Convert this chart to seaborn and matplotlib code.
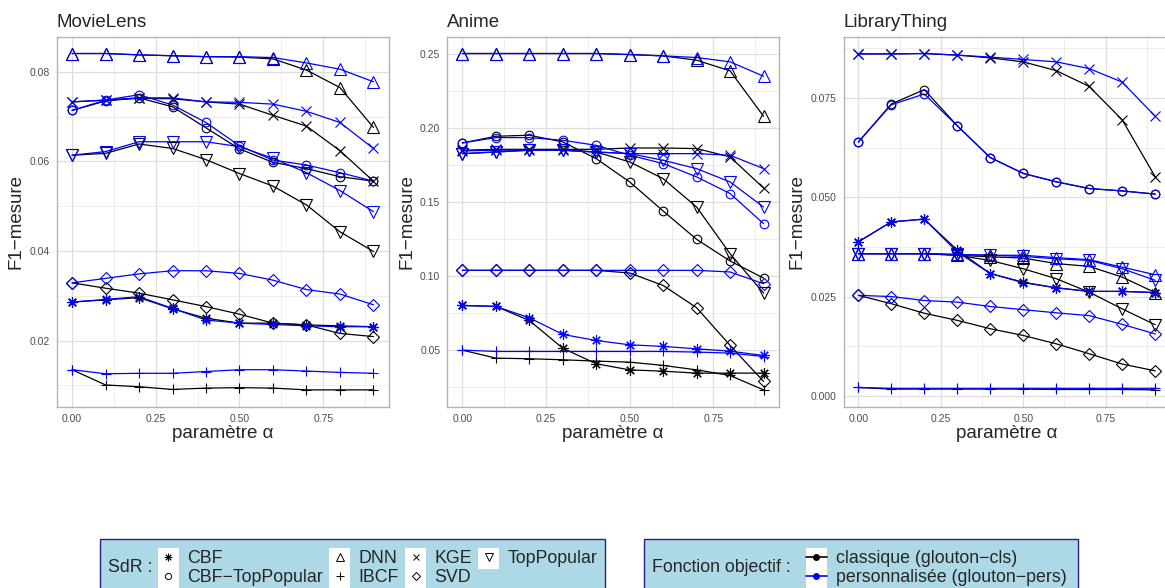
import matplotlib
matplotlib.use("Agg")
import matplotlib.pyplot as plt
import numpy as np
import pandas as pd
import seaborn as sns
from matplotlib.lines import Line2D
from matplotlib.patches import Rectangle
from matplotlib.ticker import FixedLocator, FormatStrFormatter

ALPHA = [0.0, 0.1, 0.2, 0.3, 0.4, 0.5, 0.6, 0.7, 0.8, 0.9]
SDR = ["CBF", "CBF−TopPopular", "DNN", "IBCF", "KGE", "SVD", "TopPopular"]
OBJ_CLS = "classique (glouton−cls)"
OBJ_PERS = "personnalisée (glouton−pers)"

# F1 values, one dict per dataset / objective function
MOVIELENS_CLS = {
    "CBF": [0.0286, 0.0291, 0.0296, 0.0271, 0.0250, 0.0239, 0.0239, 0.0235, 0.0233, 0.0231],
    "CBF−TopPopular": [0.0714, 0.0735, 0.0742, 0.0722, 0.0675, 0.0628, 0.0598, 0.0584, 0.0566, 0.0556],
    "DNN": [0.0841, 0.0841, 0.0838, 0.0836, 0.0834, 0.0833, 0.0829, 0.0804, 0.0765, 0.0676],
    "IBCF": [0.0135, 0.0101, 0.0097, 0.0091, 0.0094, 0.0095, 0.0094, 0.0090, 0.0090, 0.0090],
    "KGE": [0.0733, 0.0737, 0.0741, 0.0740, 0.0733, 0.0728, 0.0703, 0.0679, 0.0624, 0.0556],
    "SVD": [0.0329, 0.0317, 0.0306, 0.0291, 0.0276, 0.0259, 0.0239, 0.0235, 0.0216, 0.0209],
    "TopPopular": [0.0614, 0.0618, 0.0639, 0.0629, 0.0604, 0.0573, 0.0545, 0.0503, 0.0443, 0.0399],
}
MOVIELENS_PERS = {
    "CBF": [0.0286, 0.0292, 0.0298, 0.0272, 0.0246, 0.0239, 0.0236, 0.0233, 0.0231, 0.0231],
    "CBF−TopPopular": [0.0714, 0.0737, 0.0749, 0.0726, 0.0687, 0.0635, 0.0603, 0.0592, 0.0575, 0.0556],
    "DNN": [0.0841, 0.0841, 0.0838, 0.0836, 0.0834, 0.0834, 0.0832, 0.0820, 0.0806, 0.0778],
    "IBCF": [0.0135, 0.0126, 0.0127, 0.0127, 0.0131, 0.0135, 0.0135, 0.0132, 0.0129, 0.0127],
    "KGE": [0.0733, 0.0737, 0.0742, 0.0742, 0.0733, 0.0732, 0.0728, 0.0712, 0.0687, 0.0629],
    "SVD": [0.0329, 0.0339, 0.0349, 0.0356, 0.0356, 0.0350, 0.0335, 0.0314, 0.0304, 0.0280],
    "TopPopular": [0.0614, 0.0622, 0.0644, 0.0644, 0.0644, 0.0633, 0.0607, 0.0575, 0.0535, 0.0488],
}
ANIME_CLS = {
    "CBF": [0.0801, 0.0795, 0.0700, 0.0513, 0.0408, 0.0367, 0.0358, 0.0345, 0.0345, 0.0345],
    "CBF−TopPopular": [0.1897, 0.1942, 0.1949, 0.1904, 0.1791, 0.1634, 0.1438, 0.1247, 0.1101, 0.0986],
    "DNN": [0.2500, 0.2500, 0.2500, 0.2500, 0.2500, 0.2493, 0.2484, 0.2455, 0.2383, 0.2077],
    "IBCF": [0.0500, 0.0446, 0.0442, 0.0435, 0.0426, 0.0419, 0.0397, 0.0367, 0.0329, 0.0232],
    "KGE": [0.1848, 0.1854, 0.1854, 0.1854, 0.1854, 0.1863, 0.1863, 0.1859, 0.1803, 0.1593],
    "SVD": [0.1038, 0.1038, 0.1038, 0.1038, 0.1038, 0.1020, 0.0936, 0.0786, 0.0532, 0.0289],
    "TopPopular": [0.1825, 0.1836, 0.1848, 0.1848, 0.1836, 0.1769, 0.1656, 0.1465, 0.1150, 0.0885],
}
ANIME_PERS = {
    "CBF": [0.0801, 0.0795, 0.0718, 0.0606, 0.0565, 0.0536, 0.0525, 0.0509, 0.0493, 0.0464],
    "CBF−TopPopular": [0.1897, 0.1933, 0.1933, 0.1915, 0.1881, 0.1814, 0.1758, 0.1668, 0.1556, 0.1353],
    "DNN": [0.2500, 0.2500, 0.2500, 0.2500, 0.2500, 0.2493, 0.2484, 0.2473, 0.2444, 0.2347],
    "IBCF": [0.0500, 0.0491, 0.0491, 0.0491, 0.0491, 0.0491, 0.0491, 0.0487, 0.0480, 0.0457],
    "KGE": [0.1843, 0.1848, 0.1848, 0.1848, 0.1836, 0.1825, 0.1825, 0.1825, 0.1814, 0.1724],
    "SVD": [0.1038, 0.1038, 0.1038, 0.1038, 0.1038, 0.1038, 0.1038, 0.1038, 0.1027, 0.0948],
    "TopPopular": [0.1825, 0.1836, 0.1848, 0.1848, 0.1836, 0.1825, 0.1780, 0.1724, 0.1634, 0.1465],
}
LIBRARY_CLS = {
    "CBF": [0.0388, 0.0438, 0.0445, 0.0367, 0.0308, 0.0286, 0.0272, 0.0263, 0.0263, 0.0260],
    "CBF−TopPopular": [0.0639, 0.0735, 0.0771, 0.0680, 0.0600, 0.0560, 0.0539, 0.0522, 0.0516, 0.0508],
    "DNN": [0.0358, 0.0358, 0.0358, 0.0354, 0.0350, 0.0347, 0.0333, 0.0326, 0.0299, 0.0260],
    "IBCF": [0.0021, 0.0017, 0.0017, 0.0017, 0.0017, 0.0017, 0.0016, 0.0016, 0.0016, 0.0015],
    "KGE": [0.0861, 0.0861, 0.0862, 0.0858, 0.0851, 0.0841, 0.0819, 0.0779, 0.0695, 0.0552],
    "SVD": [0.0253, 0.0232, 0.0208, 0.0190, 0.0169, 0.0152, 0.0131, 0.0106, 0.0080, 0.0063],
    "TopPopular": [0.0358, 0.0358, 0.0358, 0.0354, 0.0341, 0.0320, 0.0295, 0.0261, 0.0219, 0.0179],
}
LIBRARY_PERS = {
    "CBF": [0.0388, 0.0438, 0.0445, 0.0362, 0.0308, 0.0285, 0.0272, 0.0263, 0.0263, 0.0260],
    "CBF−TopPopular": [0.0639, 0.0733, 0.0760, 0.0680, 0.0600, 0.0560, 0.0539, 0.0522, 0.0516, 0.0508],
    "DNN": [0.0358, 0.0358, 0.0358, 0.0356, 0.0354, 0.0354, 0.0348, 0.0343, 0.0324, 0.0305],
    "IBCF": [0.0021, 0.0019, 0.0019, 0.0019, 0.0019, 0.0019, 0.0019, 0.0019, 0.0019, 0.0019],
    "KGE": [0.0861, 0.0861, 0.0862, 0.0858, 0.0853, 0.0847, 0.0841, 0.0824, 0.0790, 0.0704],
    "SVD": [0.0253, 0.0250, 0.0240, 0.0236, 0.0225, 0.0217, 0.0209, 0.0202, 0.0180, 0.0156],
    "TopPopular": [0.0358, 0.0358, 0.0358, 0.0356, 0.0354, 0.0351, 0.0345, 0.0341, 0.0320, 0.0291],
}

DATASETS = ["MovieLens", "Anime", "LibraryThing"]
Y_TICKS = {
    "MovieLens": [0.02, 0.04, 0.06, 0.08],
    "Anime": [0.05, 0.10, 0.15, 0.20, 0.25],
    "LibraryThing": [0.000, 0.025, 0.050, 0.075],
}
Y_FMT = {"MovieLens": "%.2f", "Anime": "%.2f", "LibraryThing": "%.3f"}
X_TICKS = [0.0, 0.25, 0.5, 0.75]

MARKERS = {
    "CBF": (8, 2, 0), "CBF−TopPopular": "o", "DNN": "^", "IBCF": "+",
    "KGE": "x", "SVD": "D", "TopPopular": "v",
}
MARKER_SIZE = {
    "CBF": 7.5, "CBF−TopPopular": 6.2, "DNN": 8, "IBCF": 7.5,
    "KGE": 6.5, "SVD": 5.8, "TopPopular": 8,
}
PALETTE = {OBJ_CLS: "black", OBJ_PERS: "#0000FF"}


def build_frame():
    tables = {
        "MovieLens": (MOVIELENS_CLS, MOVIELENS_PERS),
        "Anime": (ANIME_CLS, ANIME_PERS),
        "LibraryThing": (LIBRARY_CLS, LIBRARY_PERS),
    }
    rows = []
    for ds, (cls, pers) in tables.items():
        for obj, tab in [(OBJ_CLS, cls), (OBJ_PERS, pers)]:
            for sdr in SDR:
                for a, v in zip(ALPHA, tab[sdr]):
                    rows.append({"dataset": ds, "objective": obj, "sdr": sdr,
                                 "alpha": a, "f1": v})
    return pd.DataFrame(rows)


def style_axis(ax, ds, df_ds):
    lo, hi = df_ds["f1"].min(), df_ds["f1"].max()
    pad = 0.05 * (hi - lo)
    ax.set_ylim(lo - pad, hi + pad)
    ax.set_xlim(-0.045, 0.945)
    yt = Y_TICKS[ds]
    step = yt[1] - yt[0]
    ax.yaxis.set_major_locator(FixedLocator(yt))
    ax.yaxis.set_minor_locator(FixedLocator([yt[0] - step / 2] + [t + step / 2 for t in yt]))
    ax.yaxis.set_major_formatter(FormatStrFormatter(Y_FMT[ds]))
    ax.xaxis.set_major_locator(FixedLocator(X_TICKS))
    ax.xaxis.set_minor_locator(FixedLocator([0.125, 0.375, 0.625, 0.875]))
    ax.xaxis.set_major_formatter(FormatStrFormatter("%.2f"))
    ax.grid(True, which="major", color="#DEDEDE", lw=0.9)
    ax.grid(True, which="minor", color="#E6E6E6", lw=0.5)
    ax.set_axisbelow(True)
    for sp in ax.spines.values():
        sp.set_color("#B3B3B3")
        sp.set_linewidth(1.0)
    ax.tick_params(which="major", direction="out", length=3, width=0.6,
                   color="#B3B3B3", labelcolor="#4D4D4D", labelsize=7.5, pad=2)
    ax.tick_params(which="minor", length=0)
    ax.set_title(ds, loc="left", fontsize=13.5, pad=7)
    ax.set_xlabel("paramètre α", fontsize=13.5, labelpad=1)
    ax.set_ylabel("F1−mesure", fontsize=13.5, labelpad=3.5)


def main():
    sns.set_theme(style="white")
    plt.rcParams["font.family"] = ["Liberation Sans", "DejaVu Sans"]

    df = build_frame()
    fig = plt.figure(figsize=(11.65, 5.88), dpi=100)
    W, H = 1165.0, 588.0
    # panel extents in pixels (left, right), shared top / bottom
    boxes = [(57, 388.5), (447.3, 778.6), (843.5, 1170)]
    top, bottom = 36.7, 406.7

    for ds, (x0, x1) in zip(DATASETS, boxes):
        ax = fig.add_axes([x0 / W, 1 - bottom / H, (x1 - x0) / W, (bottom - top) / H])
        d = df[df["dataset"] == ds]
        # lines first (as geom_line), then the points on top
        sns.lineplot(data=d, x="alpha", y="f1", hue="objective", style="sdr",
                     palette=PALETTE, dashes=False, markers=False,
                     errorbar=None, legend=False, linewidth=0.9, ax=ax)
        for sdr in SDR:
            n0 = len(ax.lines)
            sns.lineplot(data=d[d["sdr"] == sdr], x="alpha", y="f1", hue="objective",
                         palette=PALETTE, marker=MARKERS[sdr], linestyle="none",
                         errorbar=None, legend=False, ax=ax)
            for ln in ax.lines[n0:]:
                ln.set_markerfacecolor("none")
                ln.set_markeredgecolor(ln.get_color())
                ln.set_markeredgewidth(0.8)
                ln.set_markersize(MARKER_SIZE[sdr])
        style_axis(ax, ds, d)

    fs = 12.8
    hl, tp1, tp2 = 1.17, 0.45, 0.5
    # legend 1: recommender systems
    h1 = [Line2D([], [], color="black", marker=MARKERS[s], linestyle="none",
                 mfc="none", mew=0.7, markersize=MARKER_SIZE[s] * 0.72) for s in SDR]
    leg1 = fig.legend(h1, SDR, ncol=4, loc="upper left",
                      bbox_to_anchor=(158 / W, 1 - 550 / H), frameon=False,
                      fontsize=fs, handlelength=hl, handletextpad=tp1,
                      columnspacing=0.38, labelspacing=0.11, borderpad=0,
                      borderaxespad=0)
    # legend 2: objective function
    h2 = [Line2D([], [], color=PALETTE[o], marker="o", markersize=4, lw=1.2)
          for o in [OBJ_CLS, OBJ_PERS]]
    leg2 = fig.legend(h2, [OBJ_CLS, OBJ_PERS], loc="upper left",
                      bbox_to_anchor=(806 / W, 1 - 550 / H), frameon=False,
                      fontsize=fs, handlelength=hl, handletextpad=tp2,
                      labelspacing=0.11, borderpad=0, borderaxespad=0)

    edge = "#23238C"
    fig.add_artist(Rectangle((100 / W, -0.1), 505 / W, 0.1 + 1 - 539 / H,
                             transform=fig.transFigure, fc="#ADD8E6", ec=edge,
                             lw=1.0, zorder=0.5))
    fig.add_artist(Rectangle((644 / W, -0.1), 434 / W, 0.1 + 1 - 539 / H,
                             transform=fig.transFigure, fc="#ADD8E6", ec=edge,
                             lw=1.0, zorder=0.5))
    fig.text(108 / W, 1 - 567 / H, "SdR :", fontsize=fs, va="center", ha="left")
    fig.text(652 / W, 1 - 567 / H, "Fonction objectif :", fontsize=fs,
             va="center", ha="left")

    # white key backgrounds behind the legend symbols
    fig.canvas.draw()
    r = fig.canvas.get_renderer()
    fs_px = fs * fig.dpi / 72.0
    for leg, pad in [(leg1, tp1), (leg2, tp2)]:
        for t in leg.get_texts():
            bb = t.get_window_extent(r)
            right = bb.x0 - pad * fs_px
            left = right - hl * fs_px
            cy = 0.5 * (bb.y0 + bb.y1)
            fig.add_artist(Rectangle((left / W, (cy - 10.5) / H),
                                     (right - left) / W, 21 / H,
                                     transform=fig.transFigure, fc="white",
                                     ec="none", zorder=1))

    fig.savefig("out.png", dpi=100)
    plt.close(fig)


if __name__ == "__main__":
    main()
